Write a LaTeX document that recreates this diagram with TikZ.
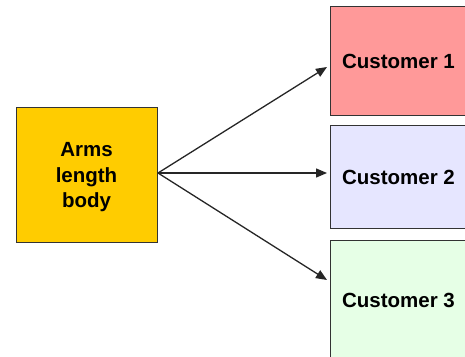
\documentclass[tikz,border=0pt]{standalone}
\usepackage{fontspec}
\setmainfont{Liberation Sans}
\usetikzlibrary{arrows.meta}
\definecolor{armsy}{HTML}{FFCC00}
\definecolor{cust1}{HTML}{FF9999}
\definecolor{cust2}{HTML}{E6E6FF}
\definecolor{cust3}{HTML}{E6FFE6}
\definecolor{edgec}{HTML}{333333}
\tikzset{
  box/.style={draw=edgec, line width=0.9pt, inner sep=0pt, font=\fontsize{20.5}{25.5}\selectfont\bfseries, align=center},
  conn/.style={draw=black!85, line width=1.3pt, -{Triangle[length=11pt,width=9pt]}}
}
\begin{document}
\begin{tikzpicture}[x=1pt,y=-1pt]
\useasboundingbox (0,0) rectangle (465,356);
\clip (0,0) rectangle (465,356);
\node[box, fill=armsy, minimum width=141pt, minimum height=135pt] (arms) at (86.5,174.5) {};
\node[font=\fontsize{20.5}{25.5}\selectfont\bfseries, align=center, inner sep=0pt] (armstext) at (86.5,177.5) {Arms\\length\\body};
\node[box, fill=cust1, minimum width=136pt, minimum height=109pt, anchor=north west] (c1) at (330,6) {Customer 1};
\node[box, fill=cust2, minimum width=136pt, minimum height=103pt, anchor=north west] (c2) at (330,125) {Customer 2};
\node[box, fill=cust3, minimum width=136pt, minimum height=120pt, anchor=north west] (c3) at (330,240) {Customer 3};
\coordinate (s) at (158,173);
\coordinate (e1) at (327,67);
\coordinate (e2) at (327,173);
\coordinate (e3) at (327,280);
\draw[conn] (s) -- (e1);
\draw[conn] (s) -- (e2);
\draw[conn] (s) -- (e3);
\end{tikzpicture}
\end{document}
